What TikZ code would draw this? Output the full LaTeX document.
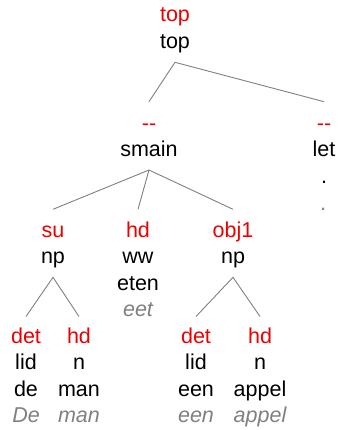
\documentclass[tikz,border=0pt]{standalone}
\usepackage{fontspec}
\setmainfont{Liberation Sans}
\definecolor{labred}{RGB}{236,0,0}
\definecolor{wordgray}{RGB}{128,128,128}
\definecolor{edgegray}{RGB}{128,128,128}
\tikzset{
  txt/.style={anchor=base, inner sep=0pt, font=\fontsize{21.5}{26}\selectfont},
  lbl/.style={txt, text=labred},
  cat/.style={txt, text=black},
  word/.style={txt, text=wordgray, font=\fontsize{21.5}{26}\selectfont\itshape},
  edge/.style={draw=edgegray, line width=0.9pt},
}
\begin{document}
\begin{tikzpicture}[x=1pt, y=-1pt]
\useasboundingbox (0,0) rectangle (337,430);
% root
\node[lbl] (r-l) at (175,22) {top};
\node[cat] (r-c) at (175,48.5) {top};
% level 1
\node[lbl] (s-l) at (149,130.5) {-{}-};
\node[cat] (s-c) at (149,157) {smain};
\node[lbl] (p-l) at (324,130.5) {-{}-};
\node[cat] (p-c) at (324,157) {let};
\node[cat] (p-w) at (324,183.5) {.};
\node[word] (p-o) at (324,210) {.};
% level 2
\node[lbl] (su-l) at (53,237) {su};
\node[cat] (su-c) at (53,263.5) {np};
\node[lbl] (v-l) at (138,237) {hd};
\node[cat] (v-c) at (138,263.5) {ww};
\node[cat] (v-w) at (138,290) {eten};
\node[word] (v-o) at (138,316.5) {eet};
\node[lbl] (ob-l) at (233,237) {obj1};
\node[cat] (ob-c) at (233,263.5) {np};
% level 3
\node[lbl] (d1-l) at (26,343) {det};
\node[cat] (d1-c) at (26,369.5) {lid};
\node[cat] (d1-w) at (26,396) {de};
\node[word] (d1-o) at (26,422.5) {De};
\node[lbl] (n1-l) at (79,343) {hd};
\node[cat] (n1-c) at (79,369.5) {n};
\node[cat] (n1-w) at (79,396) {man};
\node[word] (n1-o) at (79,422.5) {man};
\node[lbl] (d2-l) at (196,343) {det};
\node[cat] (d2-c) at (196,369.5) {lid};
\node[cat] (d2-w) at (196,396) {een};
\node[word] (d2-o) at (196,422.5) {een};
\node[lbl] (n2-l) at (260,343) {hd};
\node[cat] (n2-c) at (260,369.5) {n};
\node[cat] (n2-w) at (260,396) {appel};
\node[word] (n2-o) at (260,422.5) {appel};
% branches
\draw[edge] ([yshift=28.8pt]s-l.base) -- ([yshift=-13.8pt]r-c.base) -- ([yshift=28.8pt]p-l.base);
\draw[edge] ([yshift=-13pt]s-c.base) -- ([yshift=27.7pt]su-l.base);
\draw[edge] ([yshift=-13pt]s-c.base) -- ([yshift=27.7pt]v-l.base);
\draw[edge] ([yshift=-13pt]s-c.base) -- ([yshift=27.7pt]ob-l.base);
\draw[edge] ([yshift=26.5pt]d1-l.base) -- ([yshift=-13.8pt]su-c.base) -- ([yshift=26.5pt]n1-l.base);
\draw[edge] ([yshift=26.5pt]d2-l.base) -- ([yshift=-13.8pt]ob-c.base) -- ([yshift=26.5pt]n2-l.base);
\end{tikzpicture}
\end{document}
